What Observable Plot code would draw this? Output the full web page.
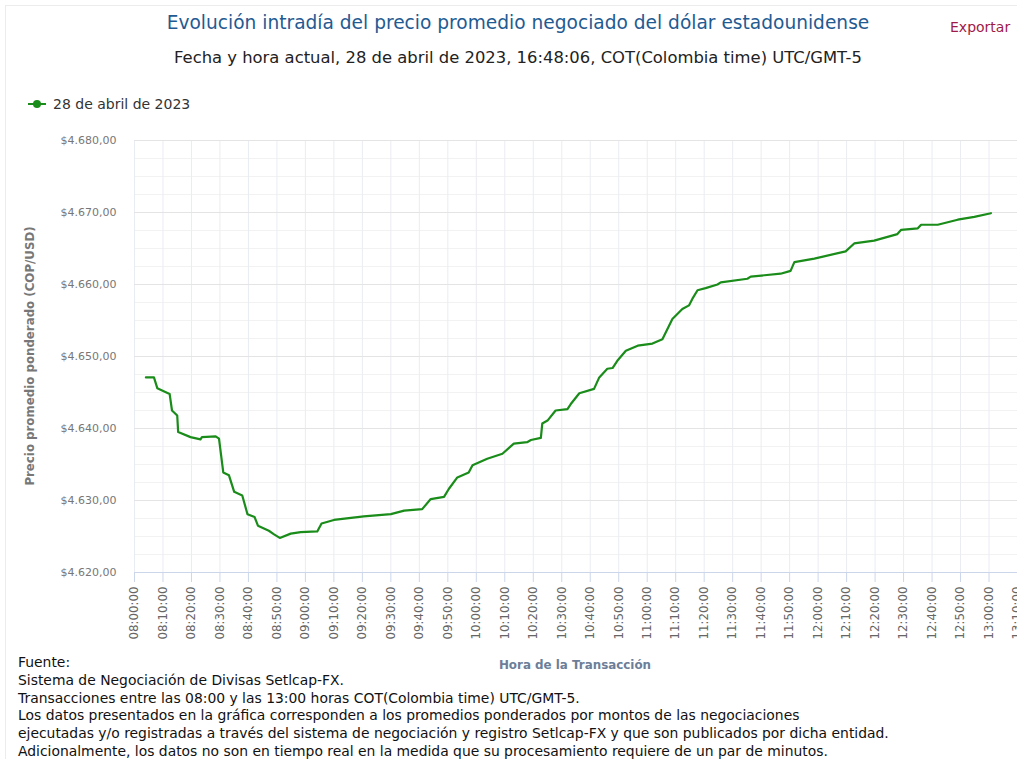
<!DOCTYPE html>
<html>
<head>
<meta charset="utf-8">
<script src="https://cdn.jsdelivr.net/npm/d3@7"></script>
<script src="https://cdn.jsdelivr.net/npm/@observablehq/plot@0.6"></script>
<style>
  html, body { margin: 0; padding: 0; background: #fff; }
  #wrap { position: relative; width: 1017px; height: 759px; overflow: hidden; background: #fff; }
  #frame { position: absolute; left: 5px; top: 5px; width: 1040px; height: 780px; border: 1px solid #ececec; }
  .abs { position: absolute; white-space: nowrap; }
  #title { top: 12px; left: 0; width: 1036px; text-align: center; font-family: "DejaVu Sans"; font-size: 18.6px; color: #1f5b92; }
  #subtitle { top: 48px; left: 0; width: 1036px; text-align: center; font-family: "DejaVu Sans"; font-size: 16.4px; color: #222; }
  #export { top: 19px; left: 950px; font-family: "DejaVu Sans"; font-size: 14px; color: #a01a48; }
  #legend { top: 96px; left: 27px; font-family: "DejaVu Sans"; font-size: 14px; color: #333; display: flex; align-items: center; }
  #legend svg { margin-right: 6px; }
  #ytitle { left: 30px; top: 356px; transform: translate(-50%, -50%) rotate(-90deg); font-family: "DejaVu Sans"; font-weight: bold; font-size: 11.8px; color: #777; }
  #xtitle { left: 575px; top: 665px; transform: translate(-50%, -50%); font-family: "DejaVu Sans"; font-weight: bold; font-size: 11.9px; color: #6c7e98; }
  #footer { top: 654px; left: 18px; font-family: "DejaVu Sans"; font-size: 13.9px; line-height: 17.8px; color: #111; }
  #chart { position: absolute; top: 120px; left: 0; }
</style>
</head>
<body>
<div id="wrap">
  <div id="frame"></div>
  <div id="title" class="abs">Evolución intradía del precio promedio negociado del dólar estadounidense</div>
  <div id="subtitle" class="abs">Fecha y hora actual, 28 de abril de 2023, 16:48:06, COT(Colombia time) UTC/GMT-5</div>
  <div id="export" class="abs">Exportar</div>
  <div id="legend" class="abs"><svg width="20" height="10"><line x1="1" y1="5" x2="19" y2="5" stroke="#1a8c1a" stroke-width="2"/><circle cx="10" cy="5" r="4" fill="#1a8c1a"/></svg><span>28 de abril de 2023</span></div>
  <div id="chart"></div>
  <div id="ytitle" class="abs">Precio promedio ponderado (COP/USD)</div>
  <div id="xtitle" class="abs">Hora de la Transacción</div>
  <div id="footer" class="abs">Fuente:<br>Sistema de Negociación de Divisas Setlcap-FX.<br>Transacciones entre las 08:00 y las 13:00 horas COT(Colombia time) UTC/GMT-5.<br>Los datos presentados en la gráfica corresponden a los promedios ponderados por montos de las negociaciones<br>ejecutadas y/o registradas a través del sistema de negociación y registro Setlcap-FX y que son publicados por dicha entidad.<br>Adicionalmente, los datos no son en tiempo real en la medida que su procesamiento requiere de un par de minutos.</div>
</div>
<script>
// ---- Data ----
const times = [
  "08:04:00","08:06:50","08:08:00","08:12:20","08:13:10","08:15:00","08:15:20","08:19:40",
  "08:23:10","08:23:40","08:28:30","08:29:40","08:31:10","08:33:10","08:35:00","08:37:50",
  "08:39:40","08:42:10","08:43:20","08:47:10","08:49:00","08:51:00","08:54:50","08:58:20",
  "09:04:10","09:05:40","09:10:00","09:20:30","09:30:00","09:34:40","09:41:00","09:44:00",
  "09:48:40","09:50:20","09:53:20","09:57:20","09:58:40","10:03:50","10:09:10","10:13:10",
  "10:17:50","10:19:10","10:22:40","10:23:10","10:25:00","10:27:50","10:32:00","10:33:10",
  "10:36:10","10:41:20","10:43:10","10:46:00","10:47:50","10:49:30","10:52:30","10:56:40",
  "11:01:50","11:05:20","11:08:50","11:12:20","11:14:40","11:15:50","11:17:40","11:20:30",
  "11:24:40","11:25:50","11:35:10","11:36:20","11:46:50","11:50:20","11:51:40","11:58:40",
  "12:09:40","12:12:40","12:19:40","12:27:50","12:29:10","12:35:00","12:36:10","12:42:00",
  "12:49:00","12:54:50","13:00:40"
];
const prices = [
  4647.1,4647.1,4645.6,4644.8,4642.5,4641.8,4639.5,4638.8,
  4638.5,4638.8,4638.9,4638.6,4633.9,4633.5,4631.2,4630.7,
  4628.1,4627.7,4626.5,4625.8,4625.3,4624.8,4625.4,4625.6,
  4625.7,4626.8,4627.3,4627.8,4628.1,4628.6,4628.8,4630.2,
  4630.5,4631.6,4633.2,4633.9,4634.9,4635.8,4636.5,4637.9,
  4638.1,4638.4,4638.7,4640.7,4641.1,4642.5,4642.7,4643.4,
  4644.9,4645.5,4647.1,4648.3,4648.4,4649.4,4650.8,4651.5,
  4651.8,4652.4,4655.2,4656.6,4657.1,4658.0,4659.2,4659.5,
  4660.0,4660.3,4660.8,4661.1,4661.5,4661.9,4663.1,4663.6,
  4664.6,4665.7,4666.1,4667.0,4667.6,4667.8,4668.3,4668.3,
  4669.0,4669.4,4669.9
];
const xTickLabels = [
  "08:00:00","08:10:00","08:20:00","08:30:00","08:40:00","08:50:00","09:00:00","09:10:00",
  "09:20:00","09:30:00","09:40:00","09:50:00","10:00:00","10:10:00","10:20:00","10:30:00",
  "10:40:00","10:50:00","11:00:00","11:10:00","11:20:00","11:30:00","11:40:00","11:50:00",
  "12:00:00","12:10:00","12:20:00","12:30:00","12:40:00","12:50:00","13:00:00","13:10:00"
];
const yTicks = [4620, 4630, 4640, 4650, 4660, 4670, 4680];
const yMinor = [4622.5, 4625, 4627.5, 4632.5, 4635, 4637.5, 4642.5, 4645, 4647.5, 4652.5, 4655, 4657.5, 4662.5, 4665, 4667.5, 4672.5, 4675, 4677.5];

// ---- Build ----
const parseT = s => { const [h, m, sec] = s.split(":").map(Number); return new Date(Date.UTC(2023, 3, 28, h, m, sec)); };
const data = times.map((t, i) => ({ t: parseT(t), v: prices[i] }));
const xTicks = xTickLabels.map(parseT);
const locale = d3.formatLocale({ decimal: ",", thousands: ".", grouping: [3], currency: ["$", ""] });
const yFmt = locale.format("$,.2f");
const xFmt = d3.utcFormat("%H:%M:%S");

const chart = Plot.plot({
  width: 1017,
  height: 555,
  marginTop: 20,
  marginBottom: 103,
  marginLeft: 134,
  marginRight: 0,
  style: { fontFamily: "DejaVu Sans", fontSize: "11px", background: "transparent", color: "#666" },
  x: { type: "utc", domain: [xTicks[0], xTicks[xTicks.length - 1]] },
  y: { domain: [4620, 4680] },
  marks: [
    Plot.ruleY(yMinor, { stroke: "#f2f2f2", strokeWidth: 1 }),
    Plot.ruleX(xTicks, { stroke: "#e9ecf2", strokeWidth: 1 }),
    Plot.ruleY(yTicks.slice(1), { stroke: "#e4e4e4", strokeWidth: 1 }),
    Plot.ruleY([4620], { stroke: "#ccd6eb", strokeWidth: 1 }),
    Plot.axisY({ ticks: yTicks, tickFormat: yFmt, tickSize: 0, tickPadding: 18, label: null, fill: "#777", fontSize: 11 }),
    Plot.axisX({ ticks: xTicks, tickFormat: xFmt, tickRotate: -90, tickSize: 10, tickPadding: 4, label: null, stroke: "#ccd6eb", fill: "#666", fontSize: 11.8 }),
    Plot.line(data, { x: "t", y: "v", stroke: "#1a8c1a", strokeWidth: 2.2, strokeLinejoin: "round" })
  ]
});
document.getElementById("chart").appendChild(chart);
</script>
</body>
</html>
